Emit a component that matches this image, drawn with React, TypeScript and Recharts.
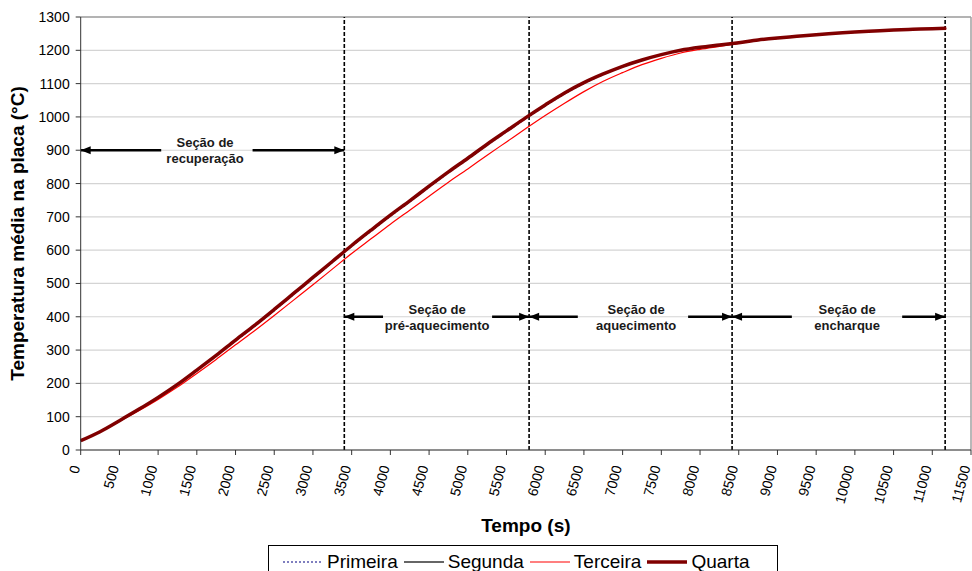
import React from "react";
import {
    LineChart,
    Line,
    XAxis,
    YAxis,
    CartesianGrid,
    ReferenceLine,
    ReferenceDot,
    Legend,
} from "recharts";

// tempo (s)
const times = [
    0, 250, 500, 750, 1000, 1250, 1500, 1750, 2000, 2250, 2500, 2750, 3000, 3250, 3500, 3750,
    4000, 4250, 4500, 4750, 5000, 5250, 5500, 5750, 6000, 6250, 6500, 6750, 7000, 7250, 7500,
    7750, 8000, 8250, 8500, 8750, 9000, 9250, 9500, 9750, 10000, 10250, 10500, 10750, 11000, 11180,
];

// temperatura média na placa (°C)
const primeira = [
    27, 54, 87, 121, 156, 195, 238, 282, 327, 372, 419, 467, 515, 563, 611, 657, 702, 745, 789,
    832, 873, 915, 955, 995, 1033, 1069, 1100, 1127, 1150, 1170, 1186, 1199, 1208, 1215, 1222,
    1230, 1236, 1242, 1247, 1251, 1255, 1258, 1261, 1263, 1265, 1266,
];
const segunda = [
    28, 55, 88, 121, 157, 196, 239, 283, 329, 374, 421, 469, 517, 565, 613, 659, 704, 747, 791,
    834, 875, 917, 957, 997, 1035, 1071, 1102, 1128, 1151, 1171, 1187, 1200, 1209, 1216, 1223,
    1231, 1237, 1242, 1247, 1251, 1255, 1258, 1261, 1263, 1265, 1266,
];
const terceira = [
    28, 55, 86, 118, 152, 189, 230, 272, 316, 359, 404, 450, 496, 543, 590, 634, 678, 720, 762,
    804, 844, 885, 925, 965, 1004, 1041, 1076, 1107, 1133, 1157, 1176, 1192, 1203, 1212, 1221,
    1230, 1236, 1241, 1246, 1251, 1255, 1258, 1261, 1263, 1265, 1266,
];
const quarta = [
    28, 55, 88, 122, 158, 197, 240, 284, 330, 375, 422, 470, 518, 566, 614, 660, 705, 748, 792,
    835, 876, 918, 958, 998, 1036, 1072, 1103, 1129, 1152, 1171, 1187, 1200, 1209, 1216, 1223,
    1231, 1237, 1242, 1247, 1251, 1255, 1258, 1261, 1263, 1265, 1266,
];

const xTicks = [
    0, 500, 1000, 1500, 2000, 2500, 3000, 3500, 4000, 4500, 5000, 5500, 6000, 6500, 7000, 7500,
    8000, 8500, 9000, 9500, 10000, 10500, 11000, 11500,
];
const yTicks = [0, 100, 200, 300, 400, 500, 600, 700, 800, 900, 1000, 1100, 1200, 1300];

// seções do forno
const boundaries = [3405, 5792, 8414, 11166];
const sectionStart = [0, 3405, 5792, 8414];
const sectionEnd = [3405, 5792, 8414, 11166];
const gapStart = [1040, 3905, 6421, 9186];
const gapEnd = [2220, 5314, 7846, 10611];
const labelCenter = [1606, 4604, 7174, 9900];
const arrowY = [900, 400, 400, 400];
const labelLine1 = ["Seção de", "Seção de", "Seção de", "Seção de"];
const labelLine2 = ["recuperação", "pré-aquecimento", "aquecimento", "encharque"];

const FONT = "'Liberation Sans', Arial, sans-serif";

const rows = times.map((t, i) => ({
    t,
    primeira: primeira[i],
    segunda: segunda[i],
    terceira: terceira[i],
    quarta: quarta[i],
}));

const ArrowSeg = (props: any) => {
    const { x1, y1, x2, y2, head } = props;
    const tip = head === "left" ? x1 : x2;
    const d = head === "left" ? 1 : -1;
    return (
        <g>
            <line x1={x1} y1={y1} x2={x2} y2={y2} stroke="#000" strokeWidth={2.6} />
            <polygon
                points={`${tip},${y1} ${tip + d * 10},${y1 - 4} ${tip + d * 10},${y1 + 4}`}
                fill="#000"
            />
        </g>
    );
};

const SectionLabel = ({ cx, cy, l1, l2 }: any) => (
    <text fontFamily={FONT} fontSize={13} fontWeight="bold" fill="#1a1a1a" textAnchor="middle">
        <tspan x={cx} y={cy - 3}>{l1}</tspan>
        <tspan x={cx} y={cy + 13}>{l2}</tspan>
    </text>
);

const XTick = ({ x, y, payload }: any) => {
    const ax = x - 0.5;
    const ay = y + 10;
    return (
        <text
            x={ax}
            y={ay}
            transform={`rotate(-75 ${ax} ${ay})`}
            textAnchor="end"
            fontFamily={FONT}
            fontSize={14}
            fill="#000"
        >
            {payload.value}
        </text>
    );
};

const legendItems = [
    { name: "Primeira", color: "#000080", width: 1.2, dash: "2 2" },
    { name: "Segunda", color: "#333", width: 1.5, dash: "" },
    { name: "Terceira", color: "#ff0000", width: 1.2, dash: "" },
    { name: "Quarta", color: "#800000", width: 3.5, dash: "" },
];

const LegendBox = () => (
    <div
        style={{
            border: "1px solid #000",
            display: "flex",
            alignItems: "center",
            height: 34,
            paddingLeft: 14,
            boxSizing: "border-box",
            fontFamily: FONT,
            fontSize: 19,
            color: "#000",
            background: "#fff",
        }}
    >
        {legendItems.map((it, i) => (
            <React.Fragment key={it.name}>
                <svg width={40} height={10} style={{ marginLeft: i === 0 ? 0 : 6 }}>
                    <line
                        x1={0}
                        y1={5}
                        x2={40}
                        y2={5}
                        stroke={it.color}
                        strokeWidth={it.width}
                        strokeDasharray={it.dash}
                    />
                </svg>
                <span style={{ marginLeft: 4 }}>{it.name}</span>
            </React.Fragment>
        ))}
    </div>
);

export default function App() {
    return (
        <div style={{ position: "absolute", left: 0, top: 0, width: 972, height: 571, background: "#fff" }}>
            <LineChart
                width={972}
                height={571}
                data={rows}
                margin={{ top: 17, right: 1, bottom: 61, left: 0 }}
            >
                <CartesianGrid horizontal vertical={false} stroke="#d4d4d4" strokeWidth={1.2} />
                <XAxis
                    dataKey="t"
                    type="number"
                    domain={[0, 11500]}
                    ticks={xTicks}
                    interval={0}
                    height={60}
                    tickSize={5}
                    tick={<XTick />}
                    stroke="#333"
                    label={{
                        value: "Tempo (s)",
                        position: "insideBottom",
                        offset: -22,
                        style: { fontFamily: FONT, fontSize: 19, fontWeight: "bold", fill: "#000" },
                    }}
                />
                <YAxis
                    type="number"
                    domain={[0, 1300]}
                    ticks={yTicks}
                    interval={0}
                    width={80.7}
                    tickSize={5}
                    tickMargin={6}
                    stroke="#333"
                    tick={{ fontFamily: FONT, fontSize: 14, fill: "#000" }}
                    label={{
                        value: "Temperatura média na placa (°C)",
                        angle: -90,
                        position: "insideLeft",
                        offset: 0,
                        dx: 17,
                        style: {
                            fontFamily: FONT,
                            fontSize: 19,
                            fontWeight: "bold",
                            fill: "#000",
                            textAnchor: "middle",
                        },
                    }}
                />
                <ReferenceLine y={1300} stroke="#a0a0a0" strokeWidth={1.5} />
                <ReferenceLine x={11500} stroke="#a0a0a0" strokeWidth={1.5} />
                {boundaries.map((b) => (
                    <ReferenceLine
                        key={`b-${b}`}
                        x={b}
                        stroke="#000"
                        strokeWidth={1.6}
                        strokeDasharray="4 2"
                    />
                ))}
                {sectionStart.map((s, i) => (
                    <ReferenceLine
                        key={`al-${i}`}
                        segment={[
                            { x: s, y: arrowY[i] },
                            { x: gapStart[i], y: arrowY[i] },
                        ]}
                        shape={(p: any) => <ArrowSeg {...p} head="left" />}
                    />
                ))}
                {sectionEnd.map((e, i) => (
                    <ReferenceLine
                        key={`ar-${i}`}
                        segment={[
                            { x: gapEnd[i], y: arrowY[i] },
                            { x: e, y: arrowY[i] },
                        ]}
                        shape={(p: any) => <ArrowSeg {...p} head="right" />}
                    />
                ))}
                {labelCenter.map((c, i) => (
                    <ReferenceDot
                        key={`lb-${i}`}
                        x={c}
                        y={arrowY[i]}
                        r={0}
                        shape={(p: any) => (
                            <SectionLabel cx={p.cx} cy={p.cy} l1={labelLine1[i]} l2={labelLine2[i]} />
                        )}
                    />
                ))}
                <Line
                    type="monotone"
                    dataKey="primeira"
                    name="Primeira"
                    stroke="#000080"
                    strokeWidth={1.2}
                    strokeDasharray="2 2"
                    dot={false}
                    isAnimationActive={false}
                />
                <Line
                    type="monotone"
                    dataKey="segunda"
                    name="Segunda"
                    stroke="#000"
                    strokeWidth={1}
                    dot={false}
                    isAnimationActive={false}
                />
                <Line
                    type="monotone"
                    dataKey="terceira"
                    name="Terceira"
                    stroke="#ff0000"
                    strokeWidth={1.2}
                    dot={false}
                    isAnimationActive={false}
                />
                <Line
                    type="monotone"
                    dataKey="quarta"
                    name="Quarta"
                    stroke="#800000"
                    strokeWidth={3.5}
                    dot={false}
                    isAnimationActive={false}
                />
                <Legend
                    layout="horizontal"
                    verticalAlign="middle"
                    align="center"
                    content={() => <LegendBox />}
                    wrapperStyle={{ left: 268, top: 545, width: 510, height: 34 }}
                />
            </LineChart>
        </div>
    );
}
